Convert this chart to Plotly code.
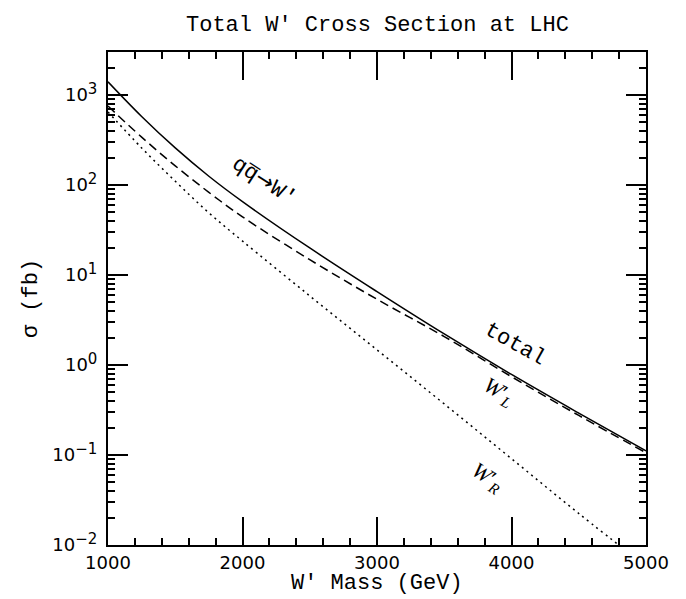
import numpy as np
import plotly.graph_objects as go

# ---- data ----
mass = [1000, 1250, 1500, 1750, 2000, 2500, 3000, 3500, 4000, 4500, 5000]
sigma_total = [1400, 577, 258, 125, 65.3, 19.95, 6.53, 2.21, 0.785, 0.292, 0.111]
sigma_WL = [752, 340, 163, 82.8, 44.2, 14.8, 5.37, 2.07, 0.741, 0.275, 0.106]
sigma_WR = [646, 258, 110, 49, 23.8, 5.85, 1.47, 0.369, 0.091, 0.0224, 0.0058]

x_ticks = [1000, 2000, 3000, 4000, 5000]
x_ticktext = ["1000", "2000", "3000", "4000", "5000"]
x_minor = [1200, 1400, 1600, 1800, 2200, 2400, 2600, 2800, 3200, 3400, 3600, 3800,
           4200, 4400, 4600, 4800]
y_ticks = [1e-2, 1e-1, 1e0, 1e1, 1e2, 1e3]
y_exponents = ["\u22122", "\u22121", "0", "1", "2", "3"]
y_ticktext = ["10<sup><span style='font-size:15px'>%s</span></sup>" % e for e in y_exponents]
y_minor = [k * 10.0 ** e for e in range(-2, 4) for k in range(2, 10) if k * 10.0 ** e <= 3000]

MONO = "Liberation Mono"
SANS = "DejaVu Sans"
SERIF = "Liberation Serif"

fig = go.Figure()
fig.add_trace(go.Scatter(x=mass, y=sigma_total, mode="lines",
                         line=dict(color="black", width=1.5, shape="spline")))
fig.add_trace(go.Scatter(x=mass, y=sigma_WL, mode="lines",
                         line=dict(color="black", width=1.5, shape="spline", dash="9px,5px")))
fig.add_trace(go.Scatter(x=mass, y=sigma_WR, mode="lines",
                         line=dict(color="black", width=1.5, shape="spline", dash="2px,4px")))

axis_common = dict(ticks="inside", tickcolor="black", tickwidth=1.5,
                   showline=True, linecolor="black", linewidth=2, mirror="ticks",
                   showgrid=False, zeroline=False,
                   tickfont=dict(family=SANS, size=18, color="black"))

fig.update_layout(
    width=686, height=599,
    margin=dict(l=100, r=48, t=44, b=62),
    paper_bgcolor="white", plot_bgcolor="white",
    showlegend=False,
    xaxis=dict(range=[1000, 5000], tickmode="array", tickvals=x_ticks, ticktext=x_ticktext,
               ticklen=28, ticklabelstandoff=0,
               minor=dict(tickmode="array", tickvals=x_minor, ticks="inside", ticklen=7,
                          tickwidth=1.5, tickcolor="black"),
               **axis_common),
    yaxis=dict(type="log", range=[-2, np.log10(3000)], tickmode="array", tickvals=y_ticks,
               ticktext=y_ticktext, ticklen=20, ticklabelstandoff=5,
               minor=dict(tickmode="array", tickvals=y_minor, ticks="inside", ticklen=7,
                          tickwidth=1.5, tickcolor="black"),
               **axis_common),
)

annotations = [
    dict(text="Total W\u2032 Cross Section at LHC", xref="paper", yref="paper",
         x=0.5, y=1.054, xanchor="center", yanchor="middle", showarrow=False,
         font=dict(family=MONO, size=22, color="black")),
    dict(text="W\u2032 Mass (GeV)", xref="paper", yref="paper",
         x=0.5, y=-0.078, xanchor="center", yanchor="middle", showarrow=False,
         font=dict(family=MONO, size=22, color="black")),
    dict(text="\u03c3 (fb)", xref="paper", yref="paper", x=-0.142, y=0.5,
         xanchor="center", yanchor="middle", textangle=-90,
         showarrow=False, font=dict(family=MONO, size=22, color="black")),
    dict(text="qq\u0305<span style='font-family:DejaVu Sans'>\u2192</span>W\u2032",
         x=2160, y=2.05, xref="x", yref="y", textangle=33,
         xanchor="center", yanchor="middle",
         showarrow=False, font=dict(family=MONO, size=22, color="black")),
    dict(text="total", x=4026, y=0.226, xref="x", yref="y", textangle=29,
         xanchor="center", yanchor="middle",
         showarrow=False, font=dict(family=MONO, size=22, color="black")),
    dict(text="<i>W</i>\u2032<sub><i>L</i></sub>", x=3907, y=-0.297, xref="x", yref="y",
         xanchor="center", yanchor="middle",
         textangle=30, showarrow=False, font=dict(family=SERIF, size=22, color="black")),
    dict(text="<i>W</i>\u2032<sub><i>R</i></sub>", x=3825, y=-1.252, xref="x", yref="y",
         xanchor="center", yanchor="middle",
         textangle=33, showarrow=False, font=dict(family=SERIF, size=22, color="black")),
]
fig.update_layout(annotations=annotations)

fig.write_html("out.html")
